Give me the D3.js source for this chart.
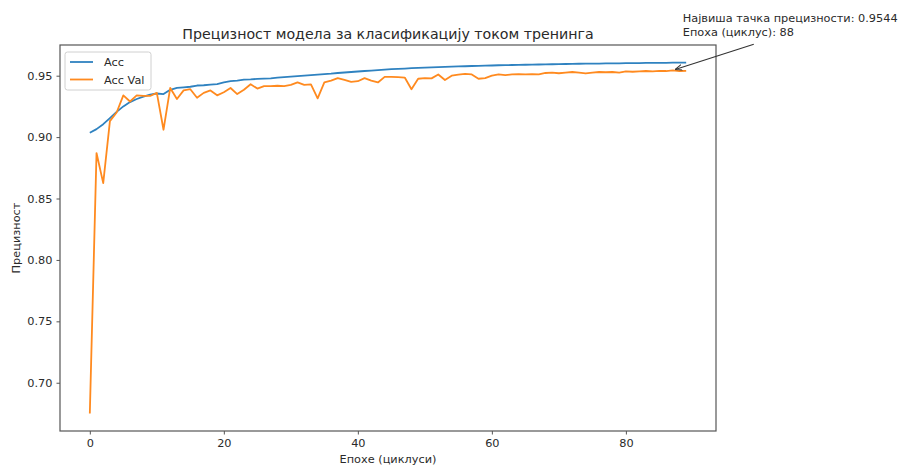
<!DOCTYPE html>
<html><head><meta charset="utf-8">
<script src="https://cdn.jsdelivr.net/npm/d3@7"></script>
<style>
html,body{margin:0;padding:0;background:#fff;}
svg{display:block;font-family:"DejaVu Sans",sans-serif;}
</style></head>
<body>
<svg id="chart" width="909" height="465"></svg>
<script>
const chartTitle = "Прецизност модела за класификацију током тренинга";
const xLabel = "Епохе (циклуси)";
const yLabel = "Прецизност";
const seriesNames = ["Acc", "Acc Val"];
const xTicks = [0, 20, 40, 60, 80];
const yTicks = [0.70, 0.75, 0.80, 0.85, 0.90, 0.95];
const acc = [
0.9035,0.9065,0.9105,0.9155,0.9205,0.9250,0.9285,0.9310,0.9330,0.9345,
0.9355,0.9350,0.9385,0.9400,0.9405,0.9410,0.9420,0.9422,0.9428,0.9432,
0.9445,0.9455,0.9460,0.9468,0.9470,0.9474,0.9476,0.9478,0.9484,0.9488,
0.9492,0.9496,0.9500,0.9504,0.9508,0.9512,0.9516,0.9522,0.9526,0.9530,
0.9534,0.9538,0.9542,0.9546,0.9550,0.9553,0.9556,0.9558,0.9561,0.9563,
0.9566,0.9568,0.9570,0.9572,0.9574,0.9576,0.9577,0.9579,0.9580,0.9582,
0.9583,0.9585,0.9586,0.9587,0.9588,0.9589,0.9590,0.9591,0.9592,0.9593,
0.9594,0.9595,0.9596,0.9597,0.9598,0.9598,0.9599,0.9600,0.9601,0.9601,
0.9602,0.9603,0.9603,0.9604,0.9604,0.9605,0.9605,0.9606,0.9606,0.9607];
const accVal = [
0.675,0.887,0.8625,0.913,0.920,0.934,0.929,0.934,0.9335,0.9335,
0.936,0.906,0.940,0.931,0.938,0.939,0.932,0.936,0.938,0.934,
0.9365,0.940,0.935,0.9385,0.943,0.9395,0.9415,0.9415,0.9418,0.9415,
0.9425,0.9445,0.9425,0.943,0.9315,0.9445,0.946,0.948,0.9465,0.945,
0.9455,0.948,0.946,0.9445,0.949,0.949,0.9488,0.9485,0.939,0.9475,
0.948,0.9478,0.951,0.9465,0.950,0.9508,0.9515,0.951,0.9475,0.948,
0.950,0.951,0.9505,0.951,0.9512,0.951,0.9512,0.951,0.9522,0.9525,
0.952,0.9525,0.953,0.9525,0.9518,0.9525,0.953,0.9528,0.953,0.9525,
0.9535,0.9532,0.9535,0.9538,0.9535,0.954,0.9538,0.9544,0.9538,0.9540];
const colors = ["#2f82c0", "#ff8a1f"];

const svg = d3.select("#chart");
const m = {left:60, right:716, top:45, bottom:431};
const epochs = acc.map((d,i)=>i);
const xmin = 0, xmax = epochs.length-1;
const xPad = (xmax-xmin)*0.05;
const all = acc.concat(accVal);
const ymin = d3.min(all), ymax = d3.max(all);
const yPad = (ymax-ymin)*0.05;
const x = d3.scaleLinear().domain([xmin-xPad, xmax+xPad]).range([m.left, m.right]);
const y = d3.scaleLinear().domain([ymin-yPad, ymax+yPad]).range([m.bottom, m.top]);

const textColor = "#2a2a2a";
const fs = "11.3px";

// axes
const xAxis = svg.append("g").attr("transform",`translate(0,${m.bottom})`)
  .call(d3.axisBottom(x).tickValues(xTicks).tickFormat(d3.format("d")).tickSize(3.5).tickPadding(4));
const yAxis = svg.append("g").attr("transform",`translate(${m.left},0)`)
  .call(d3.axisLeft(y).tickValues(yTicks).tickFormat(d3.format(".2f")).tickSize(3.5).tickPadding(4));
[xAxis,yAxis].forEach(a=>{
  a.select(".domain").remove();
  a.selectAll(".tick line").attr("stroke","#555");
  a.selectAll(".tick text").attr("fill",textColor).style("font-size",fs).style("font-family","DejaVu Sans");
});

// lines
const clipId="clip";
svg.append("clipPath").attr("id",clipId).append("rect")
  .attr("x",m.left).attr("y",m.top).attr("width",m.right-m.left).attr("height",m.bottom-m.top);
const line = d3.line().x((d,i)=>x(i)).y(d=>y(d));
[acc, accVal].forEach((s,k)=>{
  svg.append("path").datum(s).attr("d",line).attr("fill","none")
    .attr("stroke",colors[k]).attr("stroke-width",1.8).attr("stroke-linejoin","round")
    .attr("clip-path",`url(#${clipId})`);
});

// frame
svg.append("rect").attr("x",m.left).attr("y",m.top).attr("width",m.right-m.left).attr("height",m.bottom-m.top)
  .attr("fill","none").attr("stroke","#555").attr("stroke-width",1.2);

// title and labels
svg.append("text").attr("x",(m.left+m.right)/2).attr("y",m.top-6).attr("text-anchor","middle")
  .attr("fill",textColor).style("font-size","14.2px").text(chartTitle);
svg.append("text").attr("x",(m.left+m.right)/2).attr("y",463).attr("text-anchor","middle")
  .attr("fill",textColor).style("font-size",fs).text(xLabel);
svg.append("text").attr("transform",`translate(20,${(m.top+m.bottom)/2}) rotate(-90)`).attr("text-anchor","middle")
  .attr("fill",textColor).style("font-size",fs).text(yLabel);

// legend
const lg = svg.append("g").attr("transform",`translate(${m.left+5},${m.top+7})`);
lg.append("rect").attr("width",86).attr("height",38).attr("rx",2.5)
  .attr("fill","#fff").attr("fill-opacity",0.85).attr("stroke","#d0d0d0");
seriesNames.forEach((n,k)=>{
  const yy = 10 + k*17.5;
  lg.append("line").attr("x1",5).attr("x2",28).attr("y1",yy).attr("y2",yy)
    .attr("stroke",colors[k]).attr("stroke-width",1.8);
  lg.append("text").attr("x",39).attr("y",yy+4).attr("fill",textColor).style("font-size",fs).text(n);
});

// annotation
const best = d3.maxIndex(accVal);
const bx = x(best), by = y(accVal[best]);
const tx = bx + 10, ty = by - 48;
const ann = svg.append("text").attr("x",tx).attr("y",ty).attr("fill",textColor).style("font-size",fs);
ann.append("tspan").attr("x",tx).attr("dy",0).text(`Највиша тачка прецизности: ${accVal[best].toFixed(4)}`);
ann.append("tspan").attr("x",tx).attr("dy",14).text(`Епоха (циклус): ${best+1}`);
svg.append("defs").append("marker").attr("id","arr").attr("viewBox","0 0 10 10")
  .attr("refX",10).attr("refY",5).attr("markerWidth",7).attr("markerHeight",7)
  .attr("markerUnits","userSpaceOnUse").attr("orient","auto")
  .append("path").attr("d","M0,1 L10,5 L0,9").attr("fill","none").attr("stroke","#333").attr("stroke-width",1.4);
const sx = tx + 71, sy = ty + 22;
const ang = Math.atan2(by - sy, bx - sx);
svg.append("line").attr("x1",sx).attr("y1",sy)
  .attr("x2",bx - 2.5*Math.cos(ang)).attr("y2",by - 2.5*Math.sin(ang))
  .attr("stroke","#333").attr("stroke-width",1.1).attr("marker-end","url(#arr)");
</script>
</body></html>
